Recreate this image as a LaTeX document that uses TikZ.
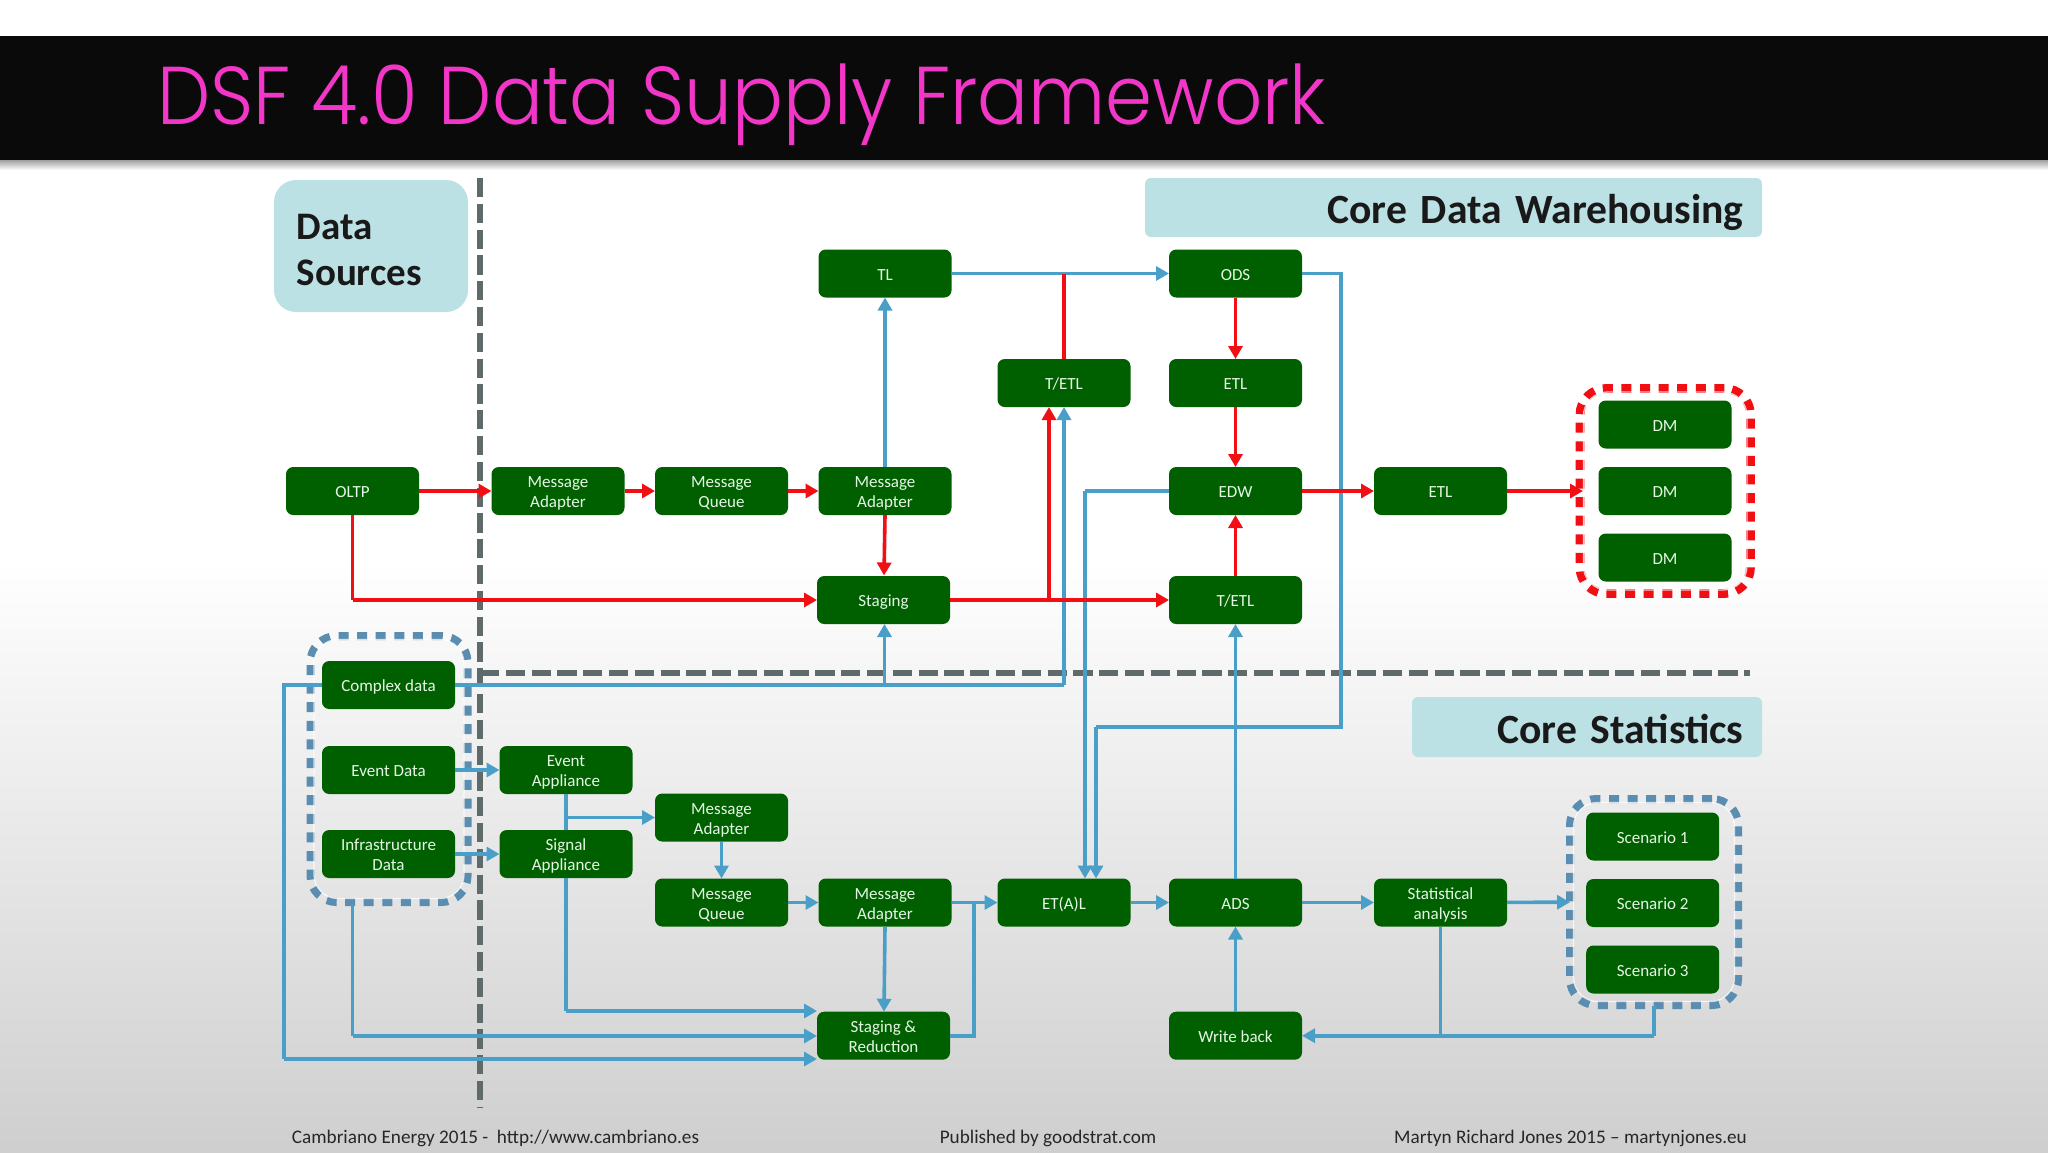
\documentclass[tikz,border=0pt]{standalone}
\usepackage{fontspec}
\setmainfont{Carlito}
\newfontfamily\titlefont[UprightFont=* Light,FakeStretch=0.92]{Poppins}
\usetikzlibrary{arrows.meta}
\definecolor{boxgreen}{HTML}{006000}
\definecolor{boxtext}{HTML}{E6F6E6}
\definecolor{linkblue}{HTML}{4A9FC9}
\definecolor{linkred}{HTML}{F20F14}
\definecolor{groupblue}{HTML}{5A8DB0}
\definecolor{sepgray}{HTML}{5F6B6B}
\definecolor{bandcol}{HTML}{BCE1E5}
\definecolor{titlepink}{HTML}{F236C8}
\tikzset{
  x=0.5pt,y=-0.5pt,
  box/.style={rectangle,rounded corners=3.6pt,fill=boxgreen,text=boxtext,minimum width=66.5pt,minimum height=24pt,inner sep=0pt,outer sep=0pt,align=center,font=\fontsize{8.5}{10}\selectfont,text height=8.5pt,text depth=2pt},
  twolines/.style={text height=18.9pt,text depth=2pt},
  band/.style={rectangle,fill=bandcol,inner sep=0pt,outer sep=0pt,font=\fontsize{20.8}{23}\selectfont\bfseries,text=black!90},
  bl/.style={draw=linkblue,line width=1.8pt,-{Triangle[length=6.5pt,width=7pt]}},
  blp/.style={draw=linkblue,line width=1.8pt},
  rd/.style={draw=linkred,line width=1.8pt,-{Triangle[length=6.5pt,width=7pt]}},
  rdp/.style={draw=linkred,line width=1.8pt},
  sep/.style={draw=sepgray,line width=3.2pt,dash pattern=on 9.6pt off 3.3pt},
  grp/.style={rectangle,rounded corners=13pt,inner sep=0pt,outer sep=0pt,line width=4pt,dash pattern=on 5pt off 4.3pt},
  grpline/.style={rectangle,rounded corners=12pt,inner sep=0pt,outer sep=0pt,line width=.65pt,draw=white,opacity=.75},
  foot/.style={anchor=base,inner sep=0pt,font=\fontsize{9.6}{11}\selectfont,text=black!85},
}
\begin{document}
\begin{tikzpicture}
\useasboundingbox (0,0) rectangle (2048,1152);
% background
\fill[white] (0,0) rectangle (2048,560);
\fill[top color=white,bottom color=black!19] (0,560) rectangle (2048,1152);
\fill[black!5] (0,36) rectangle (2048,170);
\fill[top color=black!45,bottom color=white] (0,158) rectangle (2048,170);
\fill[black!96] (0,36) rectangle (2048,160);
\node[anchor=base west,inner sep=0pt,text=titlepink,font=\titlefont\fontsize{41}{45}\selectfont] (title) at (157,124) {DSF 4.0 Data Supply Framework};
% labels
\node[band,rounded corners=11pt,minimum width=97pt,minimum height=66pt,text width=74.4pt,align=left,font=\fontsize{19.5}{23}\selectfont\bfseries,text height=15pt,text depth=22pt] (datasrc) at (371,246) {Data\\Sources};
\node[band,rounded corners=3pt,minimum width=308.5pt,minimum height=29.5pt,text width=290pt,align=right,text height=20pt,text depth=4.5pt] (corewh) at (1453.5,207.5) {Core Data Warehousing};
\node[band,rounded corners=3pt,minimum width=175pt,minimum height=30pt,text width=156.5pt,align=right,text height=20pt,text depth=4pt] (corest) at (1587,727) {Core Statistics};
% separators
\coordinate (vt) at (480,178); \coordinate (vb) at (480,1107);
\coordinate (hl) at (480,673); \coordinate (hr) at (1750,673);
\draw[sep] (vt) -- (vb);
\draw[sep] (hl) -- (hr);
% groups
\node[grp,draw=groupblue,minimum width=78.5pt,minimum height=133pt] (gsrc) at (389,769) {};
\node[grpline,minimum width=75pt,minimum height=129.5pt] at (389,769) {};
\node[grp,draw=linkred,line width=4.4pt,minimum width=85.2pt,minimum height=102.5pt] (gdm) at (1665.2,491) {};
\node[grpline,minimum width=81.8pt,minimum height=99pt] at (1665.2,491) {};
\node[grp,draw=groupblue,minimum width=84pt,minimum height=103pt] (gsc) at (1654,902) {};
\node[grpline,minimum width=80.5pt,minimum height=99.5pt] at (1654,902) {};
% boxes
\node[box] (tl) at (885,273.5) {TL};
\node[box] (ods) at (1235.5,273.5) {ODS};
\node[box] (tetlA) at (1064,383) {T/ETL};
\node[box] (etlA) at (1235.5,383) {ETL};
\node[box] (oltp) at (352.5,491) {OLTP};
\node[box,twolines] (maA) at (558,491) {Message\\Adapter};
\node[box,twolines] (mqA) at (721.5,491) {Message\\Queue};
\node[box,twolines] (maB) at (885,491) {Message\\Adapter};
\node[box] (edw) at (1235.5,491) {EDW};
\node[box] (etlB) at (1440.5,491) {ETL};
\node[box] (dmA) at (1665,424.5) {DM};
\node[box] (dmB) at (1665,491) {DM};
\node[box] (dmC) at (1665,557.5) {DM};
\node[box] (stag) at (883.5,600) {Staging};
\node[box] (tetlB) at (1235.5,600) {T/ETL};
\node[box] (cplx) at (388.5,685) {Complex data};
\node[box] (evd) at (388.5,770) {Event Data};
\node[box,twolines] (inf) at (388.5,854) {Infrastructure\\Data};
\node[box,twolines] (eva) at (566,770) {Event\\Appliance};
\node[box,twolines] (sga) at (566,854) {Signal\\Appliance};
\node[box,twolines] (maC) at (721.5,817.5) {Message\\Adapter};
\node[box,twolines] (mqC) at (721.5,902.5) {Message\\Queue};
\node[box,twolines] (maD) at (885,902.5) {Message\\Adapter};
\node[box] (etal) at (1064,902.5) {ET(A)L};
\node[box] (ads) at (1235.5,902.5) {ADS};
\node[box,twolines] (stat) at (1440.5,902.5) {Statistical\\analysis};
\node[box] (scA) at (1652.7,836.5) {Scenario 1};
\node[box] (scB) at (1652.7,903) {Scenario 2};
\node[box] (scC) at (1652.7,969.5) {Scenario 3};
\node[box,twolines] (sr) at (883.5,1035.7) {Staging \&\\Reduction};
\node[box] (wb) at (1235.5,1035.7) {Write back};
% junctions
\coordinate (jTopT) at (1064,273.5);
\coordinate (jStagUp) at (1049,600);
\coordinate (jTetlIn) at (1049,407);
\coordinate (jOltpS) at (352.5,600);
\coordinate (jOds1) at (1341,273.5);
\coordinate (jOds2) at (1341,727);
\coordinate (jOds3) at (1096,727);
\coordinate (jOds4) at (1096,878.5);
\coordinate (jEdw1) at (1085,491);
\coordinate (jEdw2) at (1085,878.5);
\coordinate (jCx1) at (1064,685);
\coordinate (jCx2) at (884.5,685);
\coordinate (jCxL1) at (284,685);
\coordinate (jCxL2) at (284,1059);
\coordinate (jSr3) at (817,1059);
\coordinate (jSg1) at (566,1011);
\coordinate (jSr1) at (817,1011);
\coordinate (jGs1) at (352.5,1036);
\coordinate (jSr2) at (817,1036);
\coordinate (jEv) at (566,817.5);
\coordinate (jSrE) at (974,1035.7);
\coordinate (jSrU) at (974,902.5);
\coordinate (jSt) at (1440.5,1035.7);
\coordinate (jGc) at (1654,1035.7);
\coordinate (jMaD) at (884,1011.7);
\coordinate (jMaB) at (884,575.5);
\coordinate (jGd) at (1583,491);
\coordinate (jGc2) at (1654,1005.5);
\coordinate (jGs0) at (352.5,904);
% blue links
\draw[bl] (maB) -- (tl);
\draw[bl] (tl) -- (ods);
\draw[blp] (ods.east) -- (jOds1) -- (jOds2) -- (jOds3);
\draw[bl] (jOds3) -- (jOds4);
\draw[blp] (edw.west) -- (jEdw1);
\draw[bl] (jEdw1) -- (jEdw2);
\draw[blp] (cplx.east) -- (jCx1);
\draw[bl] (jCx1) -- (tetlA.south);
\draw[bl] (jCx2) -- (jCx2 |- stag.south);
\draw[blp] (cplx.west) -- (jCxL1) -- (jCxL2);
\draw[bl] (jCxL2) -- (jSr3);
\draw[bl] (evd) -- (eva);
\draw[bl] (inf) -- (sga);
\draw[blp] (eva) -- (sga);
\draw[bl] (jEv) -- (maC);
\draw[blp] (sga.south) -- (jSg1);
\draw[bl] (jSg1) -- (jSr1);
\draw[bl] (maC) -- (mqC);
\draw[bl] (mqC) -- (maD);
\draw[bl] (maD) -- (etal);
\draw[bl] (maD.south) -- (jMaD);
\draw[blp] (sr.east) -- (jSrE) -- (jSrU);
\draw[blp] (jGs0) -- (jGs1);
\draw[bl] (jGs1) -- (jSr2);
\draw[bl] (etal) -- (ads);
\draw[bl] (ads) -- (stat);
\draw[bl] (stat) -- (gsc);
\draw[bl] (ads) -- (tetlB);
\draw[bl] (wb) -- (ads);
\draw[blp] (stat.south) -- (jSt);
\draw[blp] (jGc2) -- (jGc);
\draw[bl] (jGc) -- (wb);
% red links
\draw[rd] (oltp) -- (maA);
\draw[rd] (maA) -- (mqA);
\draw[rd] (mqA) -- (maB);
\draw[rd] (maB.south) -- (jMaB);
\draw[rdp] (oltp.south) -- (jOltpS);
\draw[rd] (jOltpS) -- (stag);
\draw[rd] (stag) -- (tetlB);
\draw[rd] (jStagUp) -- (jTetlIn);
\draw[rdp] (tetlA.north) -- (jTopT);
\draw[rd] (ods) -- (etlA);
\draw[rd] (etlA) -- (edw);
\draw[rd] (tetlB) -- (edw);
\draw[rd] (edw) -- (etlB);
\draw[rd] (etlB) -- (jGd);
% footer
\node[foot] (fa) at (495.5,1143) {Cambriano Energy 2015 -\ \ http://www.cambriano.es};
\node[foot] (fb) at (1048,1143) {Published by goodstrat.com};
\node[foot] (fc) at (1570.5,1143) {Martyn Richard Jones 2015 – martynjones.eu};
\end{tikzpicture}
\end{document}
